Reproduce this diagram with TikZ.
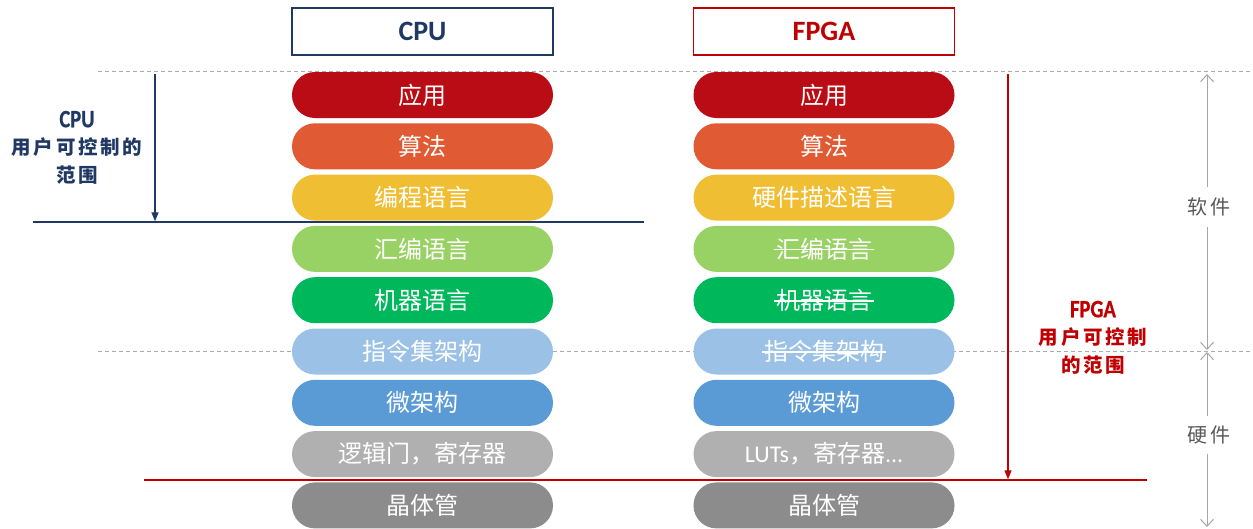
\documentclass[tikz,border=0pt]{standalone}
\usepackage{fontspec}
\setmainfont{Noto Sans CJK SC}
\newfontfamily\lat{Carlito}
\newfontfamily\narrowlat[FakeStretch=0.82,FakeBold=0.6]{Carlito}
\newfontfamily\spaced[LetterSpace=14]{Noto Sans CJK SC}
\usetikzlibrary{arrows.meta,calc}
\definecolor{navy}{HTML}{1F3864}
\definecolor{fred}{HTML}{C00000}
\definecolor{cA}{HTML}{BA0C15}
\definecolor{cB}{HTML}{E05A33}
\definecolor{cC}{HTML}{F0BE32}
\definecolor{cD}{HTML}{99D264}
\definecolor{cE}{HTML}{00B85C}
\definecolor{cF}{HTML}{9BC2E6}
\definecolor{cG}{HTML}{5B9BD5}
\definecolor{cH}{HTML}{B0B0B0}
\definecolor{cI}{HTML}{8C8C8C}
\definecolor{dashgray}{HTML}{ABABAB}
\definecolor{arrgray}{HTML}{A6A6A6}
\definecolor{txtgray}{HTML}{595959}
\newcommand\strk[1]{\setbox0\hbox{#1}\rlap{\color{white}\kern-2pt\rule[0.32em]{\dimexpr\wd0+4pt\relax}{1.8pt}}\box0}
\begin{document}
\begin{tikzpicture}[x=1pt,y=-1pt,
  pill/.style={rounded corners=22.9pt, minimum width=261pt, minimum height=46pt,
    inner sep=0pt, text=white, font=\fontsize{24}{25}\selectfont},
  hdr/.style={draw, line width=1.4pt, fill=white, minimum width=261pt, minimum height=47pt,
    inner sep=0pt, font=\lat\bfseries\fontsize{28}{30}\selectfont},
  gdash/.style={dashgray, line width=1pt, dash pattern=on 4pt off 3pt},
  rangelbl/.style={align=center, inner sep=0pt, font=\spaced\bfseries\fontsize{19.5}{27.5}\selectfont},
  sidelbl/.style={inner xsep=0pt, text=txtgray, font=\spaced\fontsize{20}{21}\selectfont},
  garrow/.style={arrgray, line width=1pt, -{Straight Barb[length=7pt,width=13pt]}},
  navyarrow/.style={navy, line width=1.3pt, -{Triangle[length=9pt,width=7pt]}},
  redarrow/.style={fred, line width=1.3pt, -{Triangle[length=9pt,width=7pt]}}
]
\useasboundingbox (0,0) rectangle (1253,528);

% dashed separators
\coordinate (d1l) at (98,71);  \coordinate (d1r) at (1253,71);
\coordinate (d2l) at (98,351); \coordinate (d2r) at (1253,351);
\draw[gdash] (d1l) -- (d1r);
\draw[gdash] (d2l) -- (d2r);

% headers
\node[hdr, draw=navy, text=navy] (hcpu) at (422.5,31.5) {CPU};
\node[hdr, draw=fred, text=fred] (hfpga) at (824,31.5) {FPGA};

% CPU column
\node[pill, fill=cA] (c1) at (422.5,95)    {应用};
\node[pill, fill=cB] (c2) at (422.5,146.3) {算法};
\node[pill, fill=cC] (c3) at (422.5,197.6) {编程语言};
\node[pill, fill=cD] (c4) at (422.5,248.9) {汇编语言};
\node[pill, fill=cE] (c5) at (422.5,300.2) {机器语言};
\node[pill, fill=cF] (c6) at (422.5,351.5) {指令集架构};
\node[pill, fill=cG] (c7) at (422.5,402.8) {微架构};
\node[pill, fill=cH] (c8) at (422.5,454.1) {逻辑门，寄存器};
\node[pill, fill=cI] (c9) at (422.5,505.4) {晶体管};

% FPGA column
\node[pill, fill=cA] (f1) at (824,95)    {应用};
\node[pill, fill=cB] (f2) at (824,146.3) {算法};
\node[pill, fill=cC] (f3) at (824,197.6) {硬件描述语言};
\node[pill, fill=cD] (f4) at (824,248.9) {\strk{汇编语言}};
\node[pill, fill=cE] (f5) at (824,300.2) {\strk{机器语言}};
\node[pill, fill=cF] (f6) at (824,351.5) {\strk{指令集架构}};
\node[pill, fill=cG] (f7) at (824,402.8) {微架构};
\node[pill, fill=cH] (f8) at (824,454.1) {{\lat LUTs}，寄存器{\lat ...}};
\node[pill, fill=cI] (f9) at (824,505.4) {晶体管};

% CPU user-controllable range
\coordinate (cl) at (33,222); \coordinate (cr) at (644,222);
\draw[navy, line width=1.5pt] (cl) -- (cr);
\coordinate (ca0) at (155,74); \coordinate (ca1) at (155,221.3);
\draw[navyarrow] (ca0) -- (ca1);
\node[rangelbl, text=navy] (clbl) at (77,147.5)
  {{\narrowlat\bfseries\fontsize{25}{27.5}\selectfont CPU}\\用户可控制的\\范围};

% FPGA user-controllable range
\coordinate (fl) at (144,480); \coordinate (fr) at (1147,480);
\draw[fred, line width=1.5pt] (fl) -- (fr);
\coordinate (fa0) at (1008,74); \coordinate (fa1) at (1008,479.3);
\draw[redarrow] (fa0) -- (fa1);
\node[rangelbl, text=fred] (flbl) at (1093,337.5)
  {{\narrowlat\bfseries\fontsize{25}{27.5}\selectfont FPGA}\\用户可控制\\的范围};

% software / hardware
\node[sidelbl, inner ysep=10.5pt] (sw) at (1209,207) {软件};
\coordinate (swt) at (1207,74); \coordinate (swb) at (1207,350);
\draw[garrow] (sw.north -| swt) -- (swt);
\draw[garrow] (sw.south -| swb) -- (swb);
\node[sidelbl, inner ysep=10pt] (hw) at (1209,435) {硬件};
\coordinate (hwt) at (1207,352); \coordinate (hwb) at (1207,527);
\draw[garrow] (hw.north -| hwt) -- (hwt);
\draw[garrow] (hw.south -| hwb) -- (hwb);
\end{tikzpicture}
\end{document}
